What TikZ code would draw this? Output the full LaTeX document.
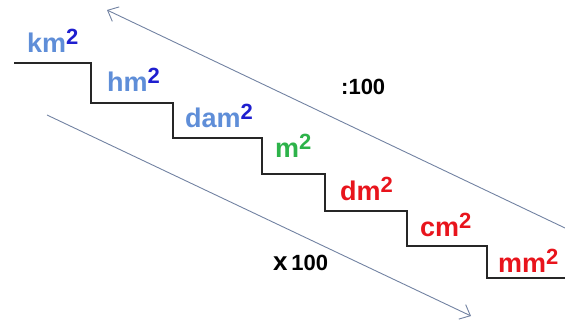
\documentclass[tikz,border=0pt]{standalone}
\usepackage{fontspec}
\setmainfont{Liberation Sans}
\usetikzlibrary{arrows.meta}
\definecolor{lightblue}{HTML}{5F8ED8}
\definecolor{darkblue}{HTML}{1F1FCF}
\definecolor{unitgreen}{HTML}{2DB34A}
\definecolor{unitred}{HTML}{E8141C}
\definecolor{arrowgray}{HTML}{7282A2}
\def\squnit[#1][#2]#3{{\color{#1}#3}\raisebox{8.5pt}{\fontsize{22}{22}\selectfont\color{#2}2}}
\tikzset{
	unitlabel/.style={anchor=base west, inner sep=0pt, font=\fontsize{27}{27}\selectfont\bfseries},
	factor/.style={anchor=base west, inner sep=0pt, font=\fontsize{22}{22}\selectfont\bfseries},
	convarrow/.style={arrowgray, line width=0.9pt, -{Straight Barb[length=9pt,width=16pt]}}
}
\begin{document}
\begin{tikzpicture}[x=1pt, y=-1pt]
			%%%%% START %%%%%
			\useasboundingbox (0, 0) rectangle (565, 320);
			
			\draw[line width = 1.4pt, black!85] (14, 63) -- (91, 63) -- (91, 103) -- (173, 103) -- (173, 138) -- (262, 138) -- (262, 174) -- (325, 174) -- (325, 211) -- (407, 211) -- (407, 246) -- (487, 246) -- (487, 278) -- (565, 278);
			
			\node[unitlabel] (km) at (27, 53) {\squnit[lightblue][darkblue]{km}};
			\node[unitlabel] (hm) at (107, 92) {\squnit[lightblue][darkblue]{hm}};
			\node[unitlabel] (dam) at (185, 128) {\squnit[lightblue][darkblue]{dam}};
			\node[unitlabel] (m) at (275, 158) {\squnit[unitgreen][unitgreen]{m}};
			\node[unitlabel] (dm) at (340, 201) {\squnit[unitred][unitred]{dm}};
			\node[unitlabel] (cm) at (420, 237) {\squnit[unitred][unitred]{cm}};
			\node[unitlabel] (mm) at (498, 273) {\squnit[unitred][unitred]{mm}};
			
			\coordinate (upstart) at (565, 228);
			\coordinate (upend) at (107, 10);
			\draw[convarrow] (upstart) -- (upend);
			\coordinate (downstart) at (47, 115);
			\coordinate (downend) at (471, 316);
			\draw[convarrow] (downstart) -- (downend);
			
			\node[factor] (divide) at (341, 95) {:100};
			\node[factor] (times) at (273, 271) {{\fontsize{26}{26}\selectfont x}\,100};
			%%%%% END %%%%%
\end{tikzpicture}
\end{document}
